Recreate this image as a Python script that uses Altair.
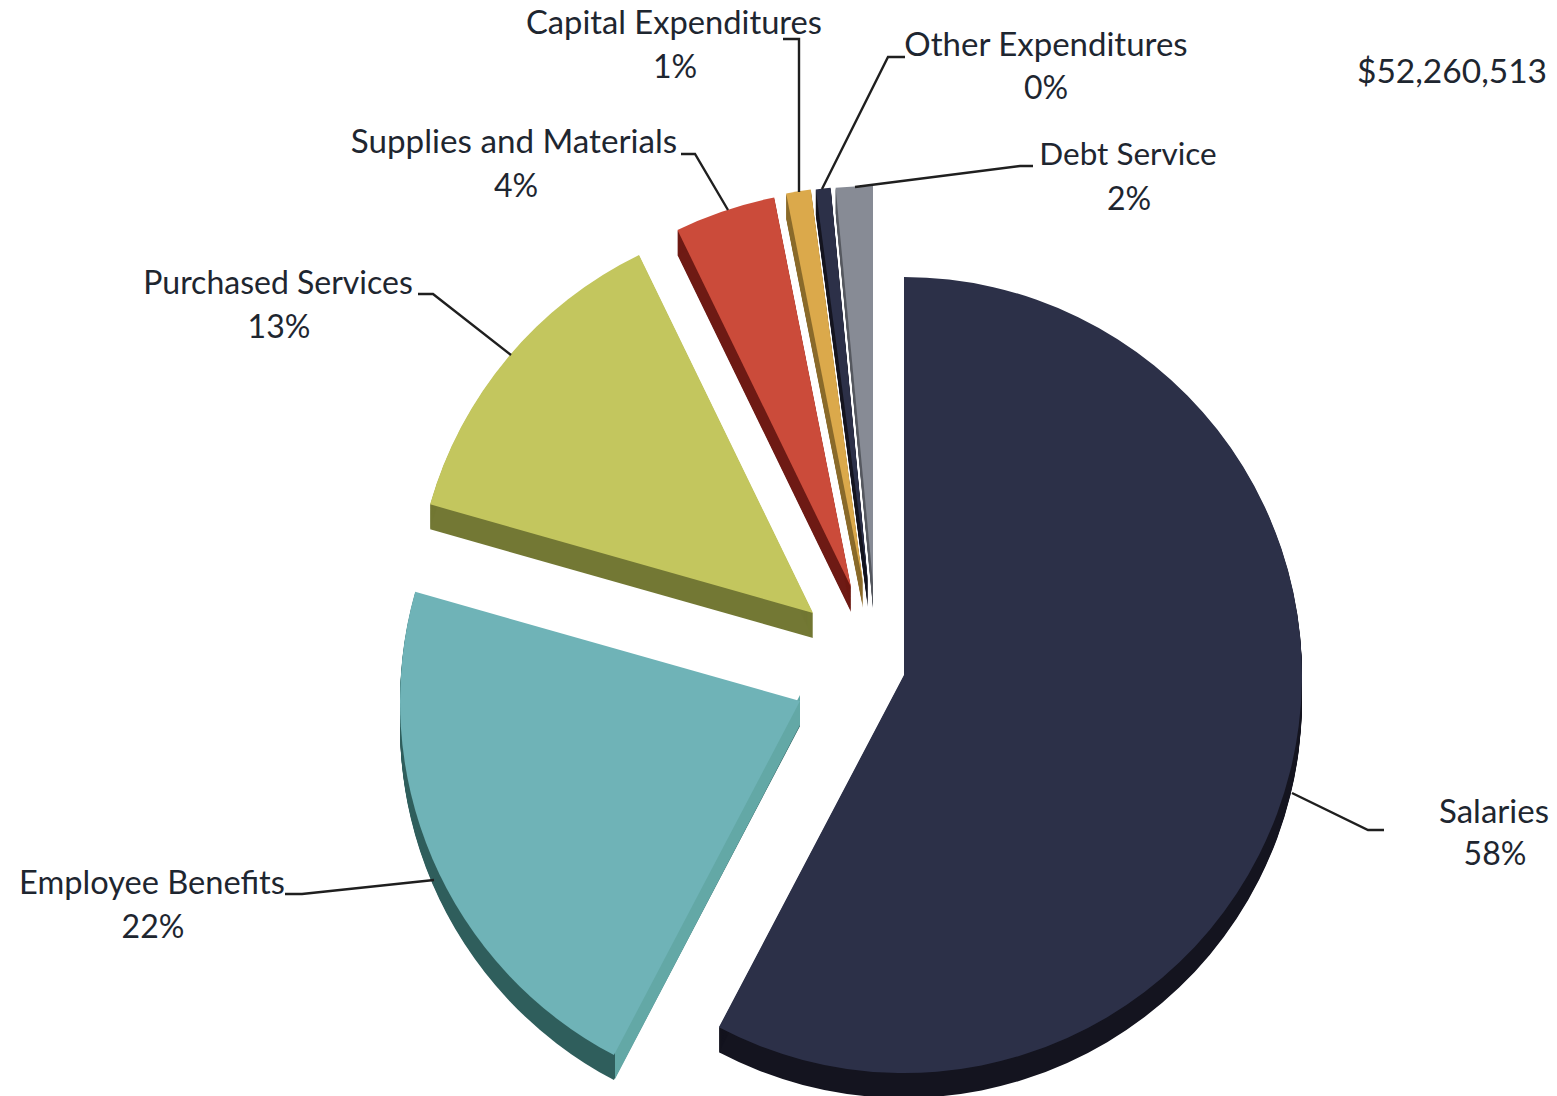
import altair as alt
import pandas as pd

# values
categories = ["Salaries", "Employee Benefits", "Purchased Services", "Supplies and Materials",
              "Capital Expenditures", "Other Expenditures", "Debt Service"]
shares = [57.7, 21.7, 13.4, 4.1, 1.0, 0.6, 1.5]
percent_labels = ["58%", "22%", "13%", "4%", "1%", "0%", "2%"]
total_label = "$52,260,513"

# exploded slice centres and radii
center_x = [904, 800, 813, 851, 863, 868, 873]
center_y = [673, 699, 611, 585, 581, 581, 581]
radii = [398, 400, 398, 397, 397, 397, 397]
depth_steps = list(range(1, 26))

# styles
top_colors = ["#2c3048", "#6fb3b7", "#c3c65e", "#cb4b3a", "#dba94b", "#2c3048", "#878b95"]
wall_colors = ["#14141f", "#2f5e5c", "#737834", "#6e1a14", "#8a6a2a", "#14141f", "#55585f"]

# label placement
label_x = [1494, 152, 278, 514, 674, 1046, 1128]
label_y = [811, 882, 282, 141, 22, 44, 154]
label_size = [33, 32.6, 32, 33.2, 32.7, 33, 31.5]
pct_x = [1495, 153, 279, 516, 675, 1046, 1129]
pct_y = [853, 926, 326, 185, 66, 87, 198]
pct_size = [32, 32, 32, 32, 32, 32, 32]

leader_x = [[1384, 1368, 1292], [285, 302, 434], [418, 433, 511], [681, 695, 728],
            [783, 799, 799], [905, 888, 822], [1033, 1020, 855]]
leader_y = [[828, 828, 791], [892, 892, 878], [292, 292, 353], [152, 152, 208],
            [37, 37, 190], [55, 55, 187], [164, 164, 185]]

side_x = [615, 800]
side_top = [1046, 693]
side_bottom = [1077, 723]

rows, start = [], 0.0
for i, c in enumerate(categories):
    rows.append(dict(cat=c, t0=start, t1=start + shares[i], cx=center_x[i], cy=center_y[i], r=radii[i],
                     top=top_colors[i], wall=wall_colors[i]))
    start += shares[i]
slices = pd.DataFrame(rows)
walls = pd.concat([slices.assign(cy=slices.cy + d) for d in depth_steps], ignore_index=True)

lines = pd.DataFrame([
    dict(cat=categories[i], o=j, x=leader_x[i][j], y=leader_y[i][j])
    for i in range(len(categories)) for j in range(3)
])
names = pd.DataFrame(dict(t=categories, x=label_x, y=label_y, s=label_size))
pcts = pd.DataFrame(dict(t=percent_labels, x=pct_x, y=pct_y, s=pct_size))
total = pd.DataFrame(dict(t=[total_label], x=[1452], y=[71], s=[33.5]))
side = pd.DataFrame(dict(x=side_x, y=side_top, y2=side_bottom))

W, H = 1541, 1080
xs = alt.Scale(domain=[8, 8 + W], range=[0, W], nice=False, zero=False)
ys = alt.Scale(domain=[8, 8 + H], range=[0, H], nice=False, zero=False)
X = alt.X("cx:Q", scale=xs, axis=None)
Y = alt.Y("cy:Q", scale=ys, axis=None)
ts = alt.Scale(domain=[0, 100], range=[0, 6.283185307])


def arc_layer(df, color_field):
    return alt.Chart(df).mark_arc(stroke=None).encode(
        x=X, y=Y,
        theta=alt.Theta("t0:Q", scale=ts),
        theta2=alt.Theta2("t1:Q"),
        radius=alt.Radius("r:Q", scale=None),
        color=alt.Color(color_field + ":N", scale=None),
    )


wall_layer = arc_layer(walls, "wall")
top_layer = arc_layer(slices, "top")
side_layer = alt.Chart(side).mark_area(color="#63a8a6").encode(
    x=alt.X("x:Q", scale=xs, axis=None),
    y=alt.Y("y:Q", scale=ys, axis=None),
    y2="y2:Q",
)
line_layer = alt.Chart(lines).mark_line(color="#1f1f1f", strokeWidth=2.4).encode(
    x=alt.X("x:Q", scale=xs, axis=None),
    y=alt.Y("y:Q", scale=ys, axis=None),
    detail="cat:N",
    order="o:Q",
)


def text_layer(df):
    return alt.Chart(df).mark_text(font="Lato", color="#1e2630", align="center",
                                   baseline="middle").encode(
        x=alt.X("x:Q", scale=xs, axis=None),
        y=alt.Y("y:Q", scale=ys, axis=None),
        size=alt.Size("s:Q", scale=None),
        text="t:N",
    )


chart = alt.layer(
    wall_layer, side_layer, top_layer, line_layer,
    text_layer(names), text_layer(pcts), text_layer(total),
).properties(width=W, height=H, padding=0, background="white").configure_view(stroke=None)

chart.save("out.html", embed_options={"renderer": "svg", "actions": False})
